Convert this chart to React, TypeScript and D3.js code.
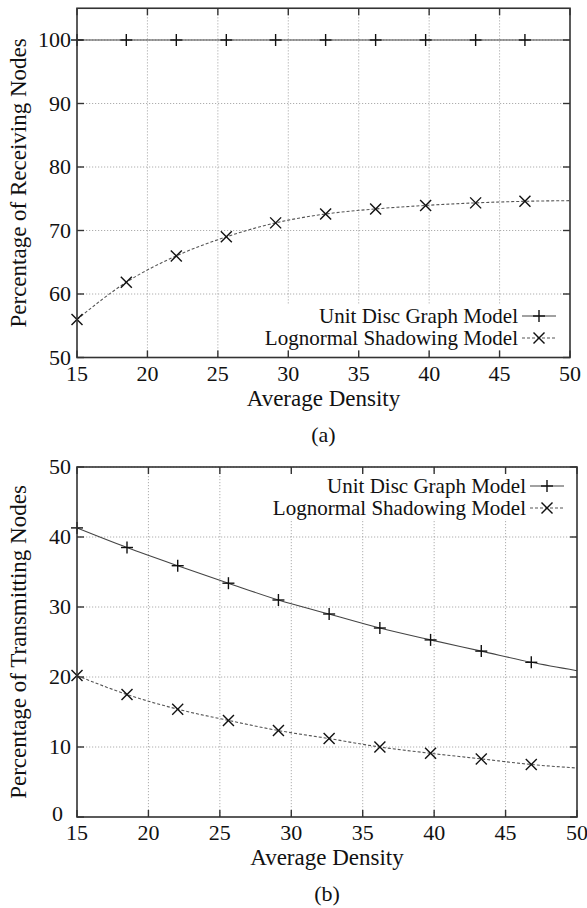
import React from "react";
import * as d3 from "d3";

// ---- data ----
const density = [15, 18.5, 22.05, 25.6, 29.1, 32.65, 36.2, 39.75, 43.3, 46.8, 50];
const markerCount = 10; // last entry (50) is curve end only

const recvUnitDisc = [100, 100, 100, 100, 100, 100, 100, 100, 100, 100, 100];
const recvLognormal = [56.0, 61.85, 66.0, 69.0, 71.2, 72.6, 73.4, 73.95, 74.35, 74.6, 74.7];

const transUnitDisc = [41.3, 38.5, 35.9, 33.4, 31.0, 29.0, 27.0, 25.3, 23.7, 22.1, 20.9];
const transLognormal = [20.2, 17.5, 15.4, 13.8, 12.35, 11.2, 10.0, 9.1, 8.3, 7.5, 7.0];

const xTicks = [15, 20, 25, 30, 35, 40, 45, 50];
const yTicksA = [50, 60, 70, 80, 90, 100];
const yTicksB = [0, 10, 20, 30, 40, 50];

const seriesNames = ["Unit Disc Graph Model", "Lognormal Shadowing Model"];

const FONT = '"Liberation Serif", "Times New Roman", Times, "DejaVu Serif", serif';
const FS_LEGEND = 21;
const FS_TICK = 22;
const FS_TITLE = 23;

type PanelProps = {
  left: number; right: number; top: number; bottom: number;
  yDomain: [number, number];
  yTicks: number[];
  unit: number[]; logn: number[];
  ylabel: string; caption: string;
  legendRight: number; legendY: number; legendBox: [number, number, number, number];
};

function Plus({ x, y }: { x: number; y: number }) {
  const s = 6;
  return (
    <g stroke="#111" strokeWidth={1.4}>
      <line x1={x - s} y1={y} x2={x + s} y2={y} />
      <line x1={x} y1={y - s} x2={x} y2={y + s} />
    </g>
  );
}
function Cross({ x, y }: { x: number; y: number }) {
  const s = 5.5;
  return (
    <g stroke="#111" strokeWidth={1.4}>
      <line x1={x - s} y1={y - s} x2={x + s} y2={y + s} />
      <line x1={x - s} y1={y + s} x2={x + s} y2={y - s} />
    </g>
  );
}

function Panel(p: PanelProps) {
  const x = d3.scaleLinear().domain([15, 50]).range([p.left, p.right]);
  const y = d3.scaleLinear().domain(p.yDomain).range([p.bottom, p.top]);
  const line = d3
    .line<number>()
    .x((_, i) => x(density[i]))
    .y((v) => y(v))
    .curve(d3.curveMonotoneX);
  const tl = 7;
  const [bx, by, bw, bh] = p.legendBox;
  return (
    <g style={{ fontFamily: FONT }} fill="#111">
      {/* grid */}
      <g stroke="#999" strokeWidth={0.8} strokeDasharray="1.2,1.8">
        {xTicks.filter((t) => t !== 15 && t !== 50).map((t) => (
          <line key={"gx" + t} x1={x(t)} x2={x(t)} y1={p.top} y2={p.bottom} />
        ))}
        {p.yTicks.filter((t) => t !== p.yDomain[0]).map((t) => (
          <line key={"gy" + t} x1={p.left} x2={p.right} y1={y(t)} y2={y(t)} />
        ))}
      </g>
      {/* legend background */}
      <rect x={bx} y={by} width={bw} height={bh} fill="#fff" />
      {/* curves */}
      <path d={line(p.unit) || ""} fill="none" stroke="#444" strokeWidth={1.1} />
      <path d={line(p.logn) || ""} fill="none" stroke="#555" strokeWidth={1.1} strokeDasharray="3,2" />
      {p.unit.slice(0, markerCount).map((v, i) => (
        <Plus key={"pu" + i} x={x(density[i])} y={y(v)} />
      ))}
      {p.logn.slice(0, markerCount).map((v, i) => (
        <Cross key={"pl" + i} x={x(density[i])} y={y(v)} />
      ))}
      {/* border & ticks */}
      <rect x={p.left} y={p.top} width={p.right - p.left} height={p.bottom - p.top} fill="none" stroke="#333" strokeWidth={1.6} />
      <g stroke="#333" strokeWidth={1.4}>
        {xTicks.map((t) => (
          <g key={"tx" + t}>
            <line x1={x(t)} x2={x(t)} y1={p.bottom} y2={p.bottom - tl} />
            <line x1={x(t)} x2={x(t)} y1={p.top} y2={p.top + tl} />
          </g>
        ))}
        {p.yTicks.map((t) => (
          <g key={"ty" + t}>
            <line x1={p.left} x2={p.left + tl} y1={y(t)} y2={y(t)} />
            <line x1={p.right} x2={p.right - tl} y1={y(t)} y2={y(t)} />
          </g>
        ))}
      </g>
      {/* tick labels */}
      <g style={{ fontSize: FS_TICK }}>
        {xTicks.map((t) => (
          <text key={"lx" + t} x={x(t)} y={p.bottom + 23} textAnchor="middle">{t}</text>
        ))}
        {p.yTicks.map((t) => (
          <text key={"ly" + t} x={t === 0 ? p.left - 14 : p.left - 6} y={t === 0 ? y(t) + 4 : y(t) + 7} textAnchor="end">{t}</text>
        ))}
      </g>
      {/* axis labels */}
      <g style={{ fontSize: FS_TITLE }}>
        <text x={(p.left + p.right) / 2} y={p.bottom + 48} textAnchor="middle">Average Density</text>
        <text x={(p.left + p.right) / 2} y={p.bottom + 84} textAnchor="middle" style={{ fontSize: FS_TICK }}>{p.caption}</text>
        <text transform={`translate(26,${(p.top + p.bottom) / 2}) rotate(-90)`} textAnchor="middle">{p.ylabel}</text>
      </g>
      {/* legend */}
      <g style={{ fontSize: FS_LEGEND }}>
        <text x={p.legendRight} y={p.legendY + 7} textAnchor="end">{seriesNames[0]}</text>
        <text x={p.legendRight} y={p.legendY + 29} textAnchor="end">{seriesNames[1]}</text>
      </g>
      <line x1={p.legendRight + 4} x2={p.legendRight + 38} y1={p.legendY} y2={p.legendY} stroke="#444" strokeWidth={1.1} />
      <Plus x={p.legendRight + 21} y={p.legendY} />
      <line x1={p.legendRight + 4} x2={p.legendRight + 38} y1={p.legendY + 22} y2={p.legendY + 22} stroke="#555" strokeWidth={1.1} strokeDasharray="3,2" />
      <Cross x={p.legendRight + 21} y={p.legendY + 22} />
    </g>
  );
}

export default function App() {
  return (
    <svg width={587} height={908} style={{ position: "absolute", left: 0, top: 0, background: "#fff" }}>
      <rect width={587} height={908} fill="#fff" />
      <Panel
        left={77} right={570} top={8.25} bottom={357.5}
        yDomain={[50, 105]} yTicks={yTicksA}
        unit={recvUnitDisc} logn={recvLognormal}
        ylabel="Percentage of Receiving Nodes" caption="(a)"
        legendRight={518} legendY={316} legendBox={[262, 304, 307, 46]}
      />
      <Panel
        left={77} right={577} top={467} bottom={817}
        yDomain={[0, 50]} yTicks={yTicksB}
        unit={transUnitDisc} logn={transLognormal}
        ylabel="Percentage of Transmitting Nodes" caption="(b)"
        legendRight={526} legendY={486} legendBox={[268, 472, 308, 47]}
      />
    </svg>
  );
}
